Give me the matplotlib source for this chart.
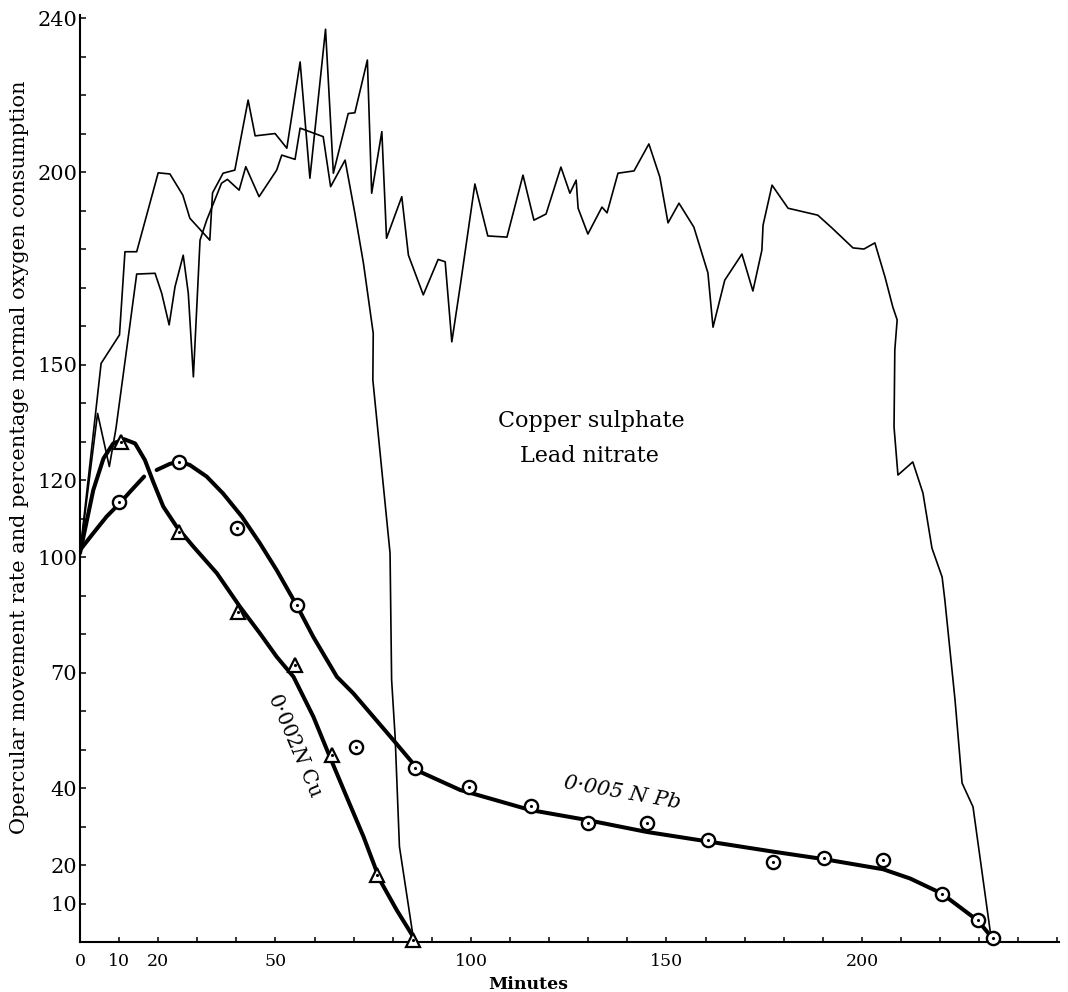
import numpy as np
import matplotlib.pyplot as plt

plt.rcParams['font.family'] = ['DejaVu Serif']
plt.rcParams['mathtext.fontset'] = 'dejavuserif'

# opercular movement rate (thin lines)
lead_x = [0, 5.4, 10.1, 11.5, 14.5, 20.0, 23.0, 26.3, 28.1, 33.2, 33.9, 36.6, 39.6, 43.0, 44.8,
          49.9, 52.9, 56.3, 58.8, 62.8, 64.8, 68.6, 70.3, 73.5, 74.6, 77.2, 78.4, 82.3, 84.0,
          87.8, 91.6, 93.4, 95.1, 97.2, 101.0, 104.3, 109.2, 113.3, 116.1, 119.2, 123.0, 125.3,
          126.9, 127.4, 129.9, 133.5, 134.8, 137.6, 141.7, 145.5, 148.3, 150.4, 153.2, 157.0,
          160.6, 161.9, 164.9, 169.3, 172.1, 174.4, 174.7, 177.0, 181.1, 188.7, 192.3, 197.7,
          200.5, 203.3, 205.9, 207.9, 209.0, 208.4, 208.2, 209.2, 213.0, 215.6, 217.9, 220.5,
          221.2, 223.8, 225.6, 228.4, 233.0]
lead_y = [101, 150.3, 157.7, 179.3, 179.3, 199.8, 199.5, 194.0, 188.0, 182.3, 194.6, 199.7, 200.5,
          218.7, 209.4, 210.0, 206.2, 228.6, 198.4, 237.1, 199.7, 215.2, 215.4, 229.1, 194.5,
          210.5, 182.8, 193.6, 178.4, 168.1, 177.3, 176.7, 155.9, 170.1, 196.9, 183.4, 183.1,
          199.2, 187.5, 189.1, 201.3, 194.5, 197.9, 190.6, 183.9, 190.9, 189.4, 199.7, 200.3,
          207.3, 198.7, 186.8, 191.9, 185.7, 173.8, 159.7, 171.9, 178.7, 169.1, 179.7, 186.2,
          196.6, 190.6, 188.8, 185.5, 180.3, 180.0, 181.6, 172.7, 164.9, 161.6, 153.8, 133.8,
          121.3, 124.7, 116.6, 102.3, 94.8, 88.8, 62.9, 41.3, 35.1, 1.3]

copper_x = [0, 4.5, 6.2, 7.5, 9.2, 12.6, 14.5, 19.2, 20.9, 22.8, 24.3, 26.4, 27.7, 29.0, 30.7,
            32.4, 34.3, 36.2, 37.7, 40.7, 42.4, 45.8, 50.3, 51.6, 55.0, 56.3, 62.2, 64.1, 67.8,
            70.3, 72.5, 75.0, 74.9, 79.3, 79.7, 80.6, 81.7, 85.2]
copper_y = [101, 137.3, 129.5, 123.5, 133.4, 159.0, 173.5, 173.7, 168.5, 160.3, 170.2, 178.4,
            168.5, 146.8, 182.3, 187.5, 192.3, 197.1, 198.1, 195.3, 201.4, 193.6, 200.5, 204.4,
            203.3, 211.4, 209.2, 196.2, 203.1, 189.3, 176.3, 158.1, 146, 101.0, 68.1, 53.3,
            24.8, 1.4]

# oxygen consumption: fitted curves and observed points
cu_curve_x = [0, 3.4, 6.0, 8.5, 11.3, 14.1, 16.6, 18.7, 21.3, 24.7, 29.0, 35.0, 40.9, 46.0,
              50.3, 54.6, 59.7, 63.9, 68.2, 72.5, 76.7, 81.0, 85.2]
cu_curve_y = [101, 117.4, 125.6, 129.5, 130.6, 129.5, 125.2, 119.6, 113.1, 107.9, 102.7, 95.8,
              87.1, 80.2, 74.1, 68.9, 58.5, 48.1, 37.7, 27.4, 16.1, 8.3, 1.4]
cu_pts_x = [10.5, 25.3, 40.4, 55.0, 64.5, 76.0, 85.2]
cu_pts_y = [129.9, 106.5, 85.7, 71.9, 48.6, 17.4, 0.5]

pb_curve_x = [0, 3.4, 6.8, 10.1, 13.2, 16.4, np.nan, 19.6, 23.0, 25.4, 28.1, 32.4, 36.6, 41.4,
              46.0, 50.3, 55.4, 59.7, 65.7, 69.9, 80.1, 87.0, 97.2, 115.1, 129.6, 144.9, 160.7,
              177.1, 190.4, 205.4, 212.3, 220.4, 229.7, 232.7, 233.5]
pb_curve_y = [101.8, 106.2, 110.5, 113.9, 117.4, 120.9, np.nan, 122.6, 124.2, 124.8, 123.9,
              120.9, 116.5, 110.5, 103.6, 96.6, 87.5, 79.2, 68.9, 64.6, 52.5, 44.2, 39.5, 34.3,
              31.7, 28.6, 26.1, 23.5, 21.5, 18.9, 16.5, 12.6, 5.5, 1.8, 1.0]
pb_pts_x = [10.1, 25.4, 40.2, 55.4, 70.6, 85.7, 99.5, 115.3, 129.9, 145.0, 160.6, 177.2, 190.3,
            205.4, 220.5, 229.7, 233.5]
pb_pts_y = [114.3, 124.7, 107.5, 87.5, 50.6, 45.2, 40.3, 35.3, 30.9, 30.9, 26.5, 20.8, 21.8,
            21.3, 12.5, 5.7, 1.0]

x_ticks = np.arange(0, 251, 10)
x_labelled = [0, 10, 20, 50, 100, 150, 200]
y_ticks = np.arange(10, 241, 10)
y_labelled = [10, 20, 40, 70, 100, 120, 150, 200, 240]

fig = plt.figure(figsize=(10.68, 9.92), dpi=100)
ax = fig.add_axes([0.0749, 0.0504, 0.9167, 0.9345])

ax.plot(lead_x, lead_y, color='black', lw=1.2)
ax.plot(copper_x, copper_y, color='black', lw=1.2)
ax.plot(cu_curve_x, cu_curve_y, color='black', lw=2.9, solid_capstyle='round')
ax.plot(pb_curve_x, pb_curve_y, color='black', lw=2.9, solid_capstyle='round')

ax.plot(cu_pts_x, cu_pts_y, '^', ms=10, mfc='white', mec='black', mew=1.6, zorder=4, clip_on=False)
ax.plot(cu_pts_x, cu_pts_y, '.', ms=2.5, color='black', zorder=5, clip_on=False)
ax.plot(pb_pts_x, pb_pts_y, 'o', ms=9.5, mfc='white', mec='black', mew=1.7, zorder=4, clip_on=False)
ax.plot(pb_pts_x, pb_pts_y, '.', ms=2.5, color='black', zorder=5, clip_on=False)

ax.set_xlim(0, 250.4)
ax.set_ylim(0, 240.8)
for s in ['top', 'right']:
    ax.spines[s].set_visible(False)
for s in ['left', 'bottom']:
    ax.spines[s].set_linewidth(1.5)

ax.set_xticks(x_ticks)
ax.set_xticklabels([str(v) if v in x_labelled else '' for v in x_ticks])
ax.set_yticks(y_ticks)
ax.set_yticklabels([str(v) if v in y_labelled else '' for v in y_ticks])
ax.tick_params(axis='y', direction='in', length=4.3, width=1.1, pad=2, labelsize=15)
ax.tick_params(axis='x', direction='in', length=3.6, width=1.1, pad=8, labelsize=12.5)

ax.text(130.9, 135.3, 'Copper sulphate', fontsize=16, ha='center', va='center')
ax.text(130.4, 126.2, 'Lead nitrate', fontsize=16, ha='center', va='center')
ax.text(55.0, 51.2, r'0·002$\mathit{N}$ Cu', fontsize=14.5, ha='center', va='center',
        rotation=-67, rotation_mode='anchor')
ax.text(138.6, 38.7, '0·005 N Pb', fontsize=15, style='italic', ha='center', va='center',
        rotation=-10, rotation_mode='anchor')

fig.text(0.4944, 0.003, 'Minutes', fontsize=12.5, fontweight='bold', ha='center', va='baseline')
fig.text(20 / 1068, 1 - 457 / 992,
         'Opercular movement rate and percentage normal oxygen consumption',
         fontsize=15, rotation=90, ha='center', va='center')

fig.savefig('out.png', dpi=100)
